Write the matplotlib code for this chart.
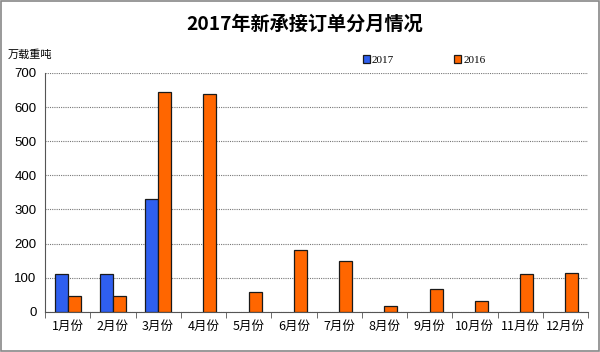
import matplotlib.pyplot as plt
import numpy as np

plt.rcParams['font.family'] = ['Noto Sans CJK SC', 'DejaVu Sans']

months = ['1月份', '2月份', '3月份', '4月份', '5月份', '6月份',
          '7月份', '8月份', '9月份', '10月份', '11月份', '12月份']
orders_2017 = [111, 110, 332, 0, 0, 0, 0, 0, 0, 0, 0, 0]
orders_2016 = [47, 47, 645, 637, 57, 181, 149, 18, 66, 31, 110, 114]

fig = plt.figure(figsize=(6, 3.52), dpi=100)
ax = fig.add_axes([0.075, 0.114, 0.905, 0.679])

x = np.arange(len(months))
w = 0.29
# 2017 只画有数据的月份
x17 = [i for i, v in enumerate(orders_2017) if v > 0]
v17 = [orders_2017[i] for i in x17]
ax.bar(np.array(x17) - w / 2, v17, w, color='#2F5FEF', edgecolor='#1a1a1a',
       linewidth=0.9, label='2017', zorder=3)
ax.bar(x + w / 2, orders_2016, w, color='#FF6600', edgecolor='#1a1a1a',
       linewidth=0.9, label='2016', zorder=3)

ax.set_xlim(-0.5, 11.5)
ax.set_ylim(0, 700)
ax.set_yticks(range(0, 701, 100))
ax.tick_params(axis='y', length=0, labelsize=9.5, pad=6)
ax.set_xticks(x)
ax.set_xticklabels(months, fontsize=9)
ax.tick_params(axis='x', length=0, pad=6)
ax.set_xticks(np.arange(-0.5, 12, 1), minor=True)
ax.tick_params(axis='x', which='minor', length=4, direction='out', color='#555555')
for t in ax.get_yticklabels():
    t.set_family(['Liberation Sans', 'DejaVu Sans'])

ax.grid(axis='y', linestyle=(0, (1, 1)), color='#777777', linewidth=0.8, zorder=0)
for s in ['top', 'right']:
    ax.spines[s].set_visible(False)
ax.spines['left'].set_color('#555555')
ax.spines['bottom'].set_color('#555555')

fig.text(0.508, 0.93, '2017年新承接订单分月情况', ha='center', va='center',
         fontsize=13.8, fontweight='bold')
fig.text(0.013, 0.845, '万载重吨', ha='left', va='center', fontsize=8)

h, l = ax.get_legend_handles_labels()
fig.legend(h, l, loc='center left', bbox_to_anchor=(0.596, 0.829), ncol=2,
           frameon=False, borderpad=0, handlelength=0.6, handleheight=0.6,
           columnspacing=5.4, handletextpad=0.2,
           prop={'family': ['Liberation Serif'], 'size': 8})

# 外边框
fig.patches.append(plt.Rectangle((0.002, 0.003), 0.996, 0.994, transform=fig.transFigure,
                                 fill=False, edgecolor='#888888', linewidth=1.2))

plt.savefig('out.png', dpi=100)
